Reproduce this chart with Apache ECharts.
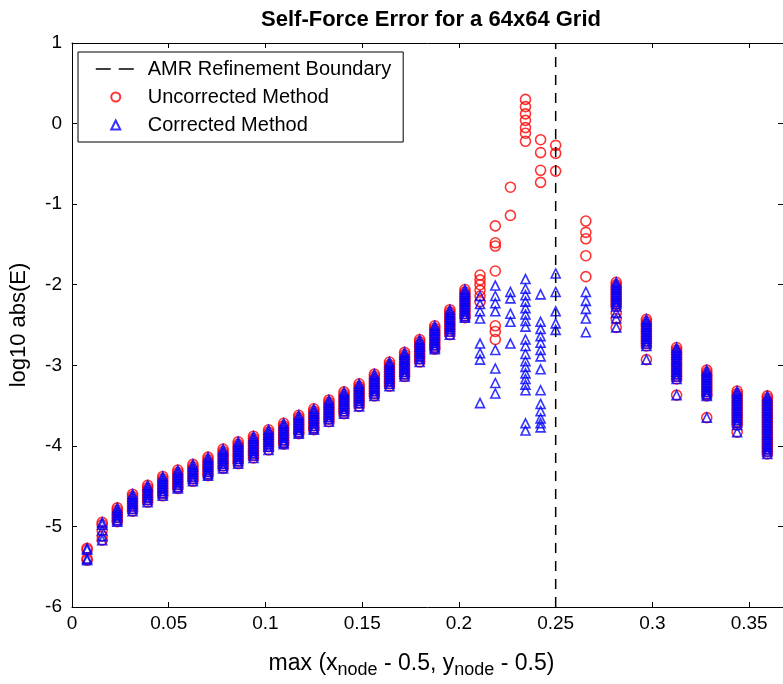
<!DOCTYPE html>
<html>
<head>
<meta charset="utf-8">
<script src="https://cdn.jsdelivr.net/npm/echarts@6/dist/echarts.min.js"></script>
<style>
  html, body { margin: 0; padding: 0; background: #fff; overflow: hidden; }
  #chart { width: 783px; height: 684px; }
</style>
</head>
<body>
<div id="chart"></div>
<script>
// Node columns: max(|x-0.5|, |y-0.5|) for the refined (1/128) and coarse (1/64) levels
const colX = [
  0.0078, 0.0156, 0.0234, 0.0313, 0.0391, 0.0469, 0.0547, 0.0625,
  0.0703, 0.0781, 0.0859, 0.0938, 0.1016, 0.1094, 0.1172, 0.1250,
  0.1328, 0.1406, 0.1484, 0.1563, 0.1641, 0.1719, 0.1797, 0.1875,
  0.1953, 0.2031, 0.2109, 0.2188, 0.2266, 0.2344, 0.2422, 0.2500,
  0.2656, 0.2813, 0.2969, 0.3125, 0.3281, 0.3438, 0.3594
];

// log10 |E| at the nodes of each column where both methods agree
const c01 = [-5.27, -5.29, -5.40, -5.42];
const c02 = [-4.95, -4.98, -5.05, -5.12, -5.17];
const c03 = [-4.77, -4.80, -4.83, -4.86, -4.89, -4.92, -4.94];
const c04 = [-4.60, -4.63, -4.66, -4.69, -4.72, -4.75, -4.78, -4.81];
const c05 = [-4.49, -4.52, -4.55, -4.58, -4.61, -4.64, -4.67, -4.70];
const c06 = [-4.38, -4.41, -4.44, -4.47, -4.50, -4.53, -4.56, -4.59, -4.62];
const c07 = [-4.30, -4.33, -4.36, -4.39, -4.42, -4.45, -4.48, -4.51, -4.53];
const c08 = [-4.23, -4.26, -4.29, -4.32, -4.35, -4.38, -4.41, -4.44];
const c09 = [-4.14, -4.17, -4.20, -4.23, -4.26, -4.29, -4.32, -4.35, -4.37];
const c10 = [-4.04, -4.07, -4.10, -4.13, -4.16, -4.19, -4.22, -4.25, -4.28];
const c11 = [-3.95, -3.98, -4.01, -4.04, -4.07, -4.10, -4.13, -4.16, -4.19, -4.22];
const c12 = [-3.88, -3.91, -3.94, -3.97, -4.00, -4.03, -4.06, -4.09, -4.12, -4.15];
const c13 = [-3.80, -3.83, -3.86, -3.89, -3.92, -3.95, -3.98, -4.01, -4.05];
const c14 = [-3.72, -3.75, -3.78, -3.81, -3.84, -3.87, -3.90, -3.93, -3.96, -3.98];
const c15 = [-3.62, -3.65, -3.68, -3.71, -3.74, -3.77, -3.80, -3.83, -3.85];
const c16 = [-3.54, -3.57, -3.60, -3.63, -3.66, -3.69, -3.72, -3.75, -3.78, -3.80];
const c17 = [-3.43, -3.46, -3.49, -3.52, -3.55, -3.58, -3.61, -3.64, -3.67, -3.70];
const c18 = [-3.33, -3.36, -3.39, -3.42, -3.45, -3.48, -3.51, -3.54, -3.57, -3.60];
const c19 = [-3.23, -3.26, -3.29, -3.32, -3.35, -3.38, -3.41, -3.44, -3.47, -3.51];
const c20 = [-3.11, -3.14, -3.17, -3.20, -3.23, -3.26, -3.29, -3.32, -3.35, -3.38];
const c21 = [-2.96, -2.99, -3.02, -3.05, -3.08, -3.11, -3.14, -3.17, -3.20, -3.23, -3.26];
const c22 = [-2.84, -2.87, -2.90, -2.93, -2.96, -2.99, -3.02, -3.05, -3.08, -3.11, -3.14];
const c23 = [-2.68, -2.71, -2.74, -2.77, -2.80, -2.83, -2.86, -2.89, -2.92, -2.96];
const c24 = [-2.51, -2.54, -2.57, -2.60, -2.63, -2.66, -2.69, -2.72, -2.75, -2.78, -2.80];
const c25 = [-2.31, -2.34, -2.37, -2.40, -2.43, -2.46, -2.49, -2.52, -2.55, -2.58, -2.62];
const c26 = [-2.06, -2.09, -2.12, -2.15, -2.18, -2.21, -2.24, -2.27, -2.30, -2.33, -2.36, -2.39, -2.41];
const c34 = [-1.97, -2.00, -2.03, -2.06, -2.09, -2.12, -2.15, -2.18, -2.21, -2.24, -2.27, -2.35, -2.42, -2.53];
const c35 = [-2.43, -2.46, -2.49, -2.52, -2.55, -2.58, -2.61, -2.64, -2.67, -2.70, -2.73, -2.76, -2.93];
const c36 = [-2.78, -2.81, -2.84, -2.87, -2.90, -2.93, -2.96, -2.99, -3.02, -3.05, -3.08, -3.11, -3.14, -3.17, -3.37];
const c37 = [-3.06, -3.09, -3.12, -3.15, -3.18, -3.21, -3.24, -3.27, -3.30, -3.33, -3.36, -3.38, -3.65];
const c38 = [-3.32, -3.35, -3.38, -3.41, -3.44, -3.47, -3.50, -3.53, -3.56, -3.59, -3.62, -3.65, -3.68, -3.71, -3.74, -3.83];
const c39 = [-3.38, -3.41, -3.44, -3.47, -3.50, -3.53, -3.56, -3.59, -3.62, -3.65, -3.68, -3.71, -3.74,
             -3.77, -3.80, -3.83, -3.86, -3.89, -3.92, -3.95, -3.98, -4.01, -4.04, -4.07, -4.10];

// Columns next to the refinement boundary, where the two methods separate
const uncorr27 = [-1.88, -1.94, -2.00, -2.07, -2.14, -2.21];
const uncorr28 = [-1.27, -1.48, -1.52, -1.83, -2.51, -2.58, -2.68];
const uncorr29 = [-0.79, -1.14];
const uncorr30 = [0.30, 0.21, 0.12, 0.04, -0.05, -0.12, -0.22];
const uncorr31 = [-0.20, -0.36, -0.58, -0.73];
const uncorr32 = [-0.27, -0.37, -0.59];
const uncorr33 = [-1.21, -1.35, -1.43, -1.64, -1.90];

const corr27 = [-2.14, -2.24, -2.33, -2.42, -2.73, -2.85, -2.93, -3.47];
const corr28 = [-2.01, -2.14, -2.23, -2.33, -2.81, -3.04, -3.22, -3.35];
const corr29 = [-2.09, -2.17, -2.36, -2.46, -2.73];
const corr30 = [-1.93, -2.05, -2.13, -2.21, -2.29, -2.37, -2.45, -2.52, -2.68, -2.76,
                -2.86, -2.95, -3.02, -3.10, -3.17, -3.24, -3.31, -3.72, -3.81];
const corr31 = [-2.12, -2.46, -2.55, -2.64, -2.72, -2.81, -2.89, -3.05, -3.31, -3.48,
                -3.57, -3.66, -3.72, -3.77];
const corr32 = [-1.86, -2.09, -2.33, -2.48, -2.56];
const corr33 = [-2.09, -2.20, -2.30, -2.42, -2.59];

const uncorrectedY = [c01, c02, c03, c04, c05, c06, c07, c08, c09, c10, c11, c12, c13,
  c14, c15, c16, c17, c18, c19, c20, c21, c22, c23, c24, c25, c26,
  uncorr27, uncorr28, uncorr29, uncorr30, uncorr31, uncorr32, uncorr33,
  c34, c35, c36, c37, c38, c39];
const correctedY = [c01, c02, c03, c04, c05, c06, c07, c08, c09, c10, c11, c12, c13,
  c14, c15, c16, c17, c18, c19, c20, c21, c22, c23, c24, c25, c26,
  corr27, corr28, corr29, corr30, corr31, corr32, corr33,
  c34, c35, c36, c37, c38, c39];

// Coarse/fine AMR interface and axis ranges
const boundaryX = 0.25;
const xRange = [0, 0.3675];
const yRange = [-6, 1];
const xTickStep = 0.05;
const yTickStep = 1;

function toPoints(xs, cols) {
  const pts = [];
  cols.forEach((ys, i) => ys.forEach(y => pts.push([xs[i], y])));
  return pts;
}

const FONT = 'Liberation Sans, Arial, sans-serif';
const chart = echarts.init(document.getElementById('chart'), null, { renderer: 'canvas' });

const frameAxis = {
  axisLine: { show: true, onZero: false, lineStyle: { color: '#000', width: 1 } },
  axisTick: { show: true, inside: true, length: 5, lineStyle: { color: '#000' } },
  splitLine: { show: false }
};

chart.setOption({
  animation: false,
  backgroundColor: '#fff',
  title: {
    text: 'Self-Force Error for a 64x64 Grid',
    left: 426, top: 4, textAlign: 'center',
    textStyle: { fontFamily: FONT, fontSize: 22, fontWeight: 'bold', color: '#000' }
  },
  grid: { left: 68, right: -1, top: 43, bottom: 74, containLabel: false },
  legend: {
    orient: 'vertical', left: 78, top: 52,
    padding: [7, 12, 7, 17], itemGap: 8,
    itemWidth: 40, itemHeight: 9,
    borderColor: '#000', borderWidth: 1, backgroundColor: '#fff',
    textStyle: { fontFamily: FONT, fontSize: 20, color: '#000', lineHeight: 20, padding: [0, 0, 0, 7] },
    data: [
      {
        name: 'AMR Refinement Boundary',
        lineStyle: { type: [15, 8], width: 1.5, color: '#000' },
        itemStyle: { color: 'rgba(0,0,0,0)', borderColor: 'rgba(0,0,0,0)', borderWidth: 0 }
      },
      { name: 'Uncorrected Method', icon: 'circle' },
      { name: 'Corrected Method', icon: 'path://M0,10 L5,0 L10,10 Z' }
    ]
  },
  xAxis: [
    Object.assign({}, frameAxis, {
      type: 'value', position: 'bottom', min: xRange[0], max: xRange[1], interval: xTickStep,
      axisLabel: { show: true, showMaxLabel: false, margin: 7, fontFamily: FONT, fontSize: 19, color: '#000' },
      name: 'max (x{sub|node} - 0.5, y{sub|node} - 0.5)',
      nameLocation: 'middle', nameGap: 42,
      nameTextStyle: {
        fontFamily: FONT, fontSize: 23, color: '#000', padding: [0, 32, 0, 0],
        rich: { sub: { fontFamily: FONT, fontSize: 18, color: '#000', padding: [12, 0, 0, 0] } }
      }
    }),
    Object.assign({}, frameAxis, {
      type: 'value', position: 'top', min: xRange[0], max: xRange[1], interval: xTickStep,
      axisLabel: { show: false }
    })
  ],
  yAxis: [
    Object.assign({}, frameAxis, {
      type: 'value', position: 'left', min: yRange[0], max: yRange[1], interval: yTickStep,
      axisLabel: { show: true, margin: 10, fontFamily: FONT, fontSize: 19, color: '#000' },
      name: 'log10 abs(E)', nameLocation: 'middle', nameGap: 42, nameRotate: 90,
      nameTextStyle: { fontFamily: FONT, fontSize: 22, color: '#000' }
    }),
    Object.assign({}, frameAxis, {
      type: 'value', position: 'right', min: yRange[0], max: yRange[1], interval: yTickStep,
      axisLabel: { show: false }
    })
  ],
  series: [
    {
      name: 'AMR Refinement Boundary', type: 'line',
      xAxisIndex: 0, yAxisIndex: 0,
      data: [[boundaryX, yRange[0]], [boundaryX, yRange[1]]],
      symbol: 'none', z: 5,
      lineStyle: { color: '#000', width: 1.5, type: [10, 8] },
      itemStyle: { color: '#000' }
    },
    {
      name: 'Uncorrected Method', type: 'scatter',
      xAxisIndex: 0, yAxisIndex: 0,
      data: toPoints(colX, uncorrectedY),
      symbol: 'circle', symbolSize: 10, z: 2,
      itemStyle: { color: 'rgba(0,0,0,0)', borderColor: '#ff0000', borderWidth: 1.6 }
    },
    {
      name: 'Corrected Method', type: 'scatter',
      xAxisIndex: 0, yAxisIndex: 0,
      data: toPoints(colX, correctedY),
      symbol: 'triangle', symbolSize: 9, z: 3,
      itemStyle: { color: 'rgba(0,0,0,0)', borderColor: '#0000ff', borderWidth: 1.6 }
    }
  ]
});
</script>
</body>
</html>
